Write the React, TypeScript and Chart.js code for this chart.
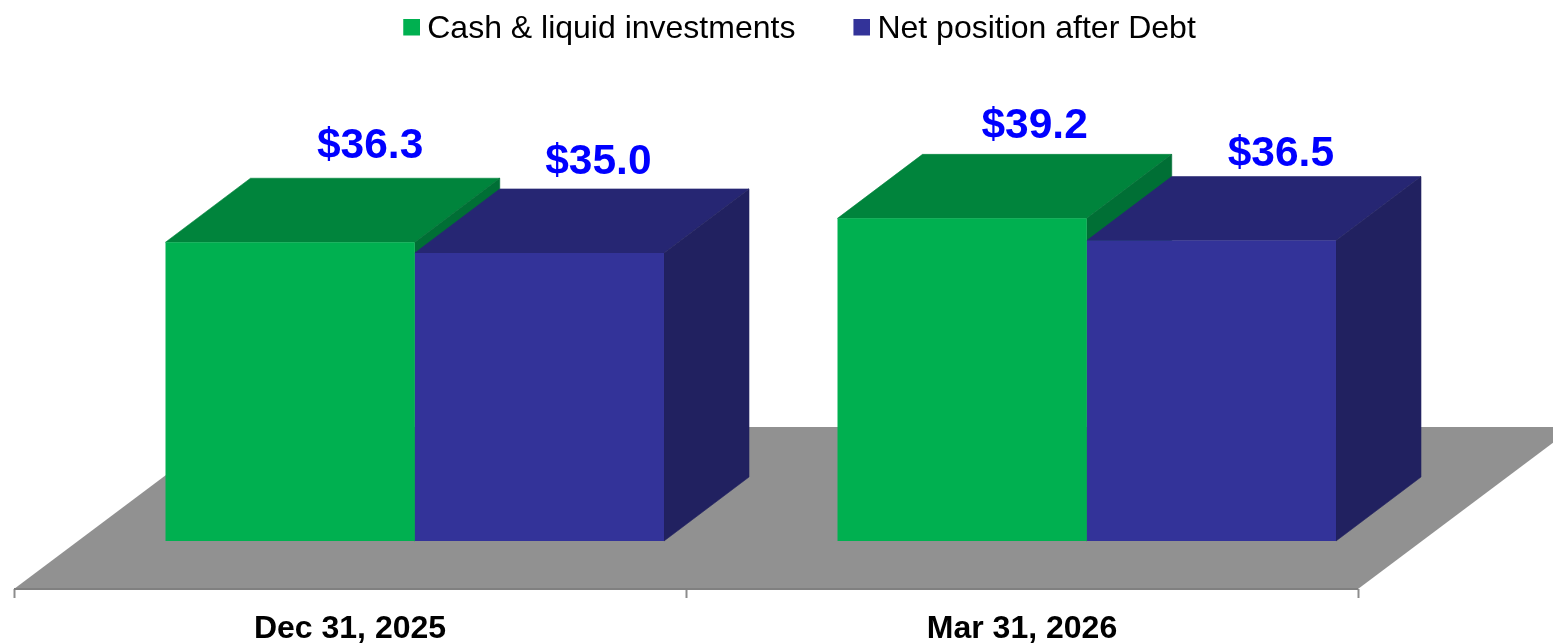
import React, { useEffect, useRef } from "react";
import { Chart, registerables } from "chart.js";

Chart.register(...registerables);

const categories = ["Dec 31, 2025", "Mar 31, 2026"];
const seriesNames = ["Cash & liquid investments", "Net position after Debt"];
const cashValues = [36.3, 39.2];
const netValues = [35.0, 36.5];

const FONT = '"Liberation Sans", Arial, sans-serif';
const COLORS = [
  { front: "#00B050", top: "#00843C", side: "#006F35" },
  { front: "#333399", top: "#262673", side: "#212160" },
];
// 3D projection, in pixels
const BAR_SHIFT = { x: 64.75, y: -48 };
const BAR_DEPTH = { x: 85, y: -64 };
const FLOOR_DEPTH = { x: 216, y: -162 };
// hand placement of the value labels relative to each bar's front-top centre
const LABEL_NUDGE = [
  [[80, -96], [72.5, -92]],
  [[59, -91], [69.5, -86]],
];

const poly = (ctx: CanvasRenderingContext2D, pts: number[][], fill: string, seam = false) => {
  ctx.beginPath();
  pts.forEach(([x, y], i) => (i ? ctx.lineTo(x, y) : ctx.moveTo(x, y)));
  ctx.closePath();
  ctx.fillStyle = fill;
  ctx.fill();
  if (seam) {
    ctx.strokeStyle = fill;
    ctx.lineWidth = 0.6;
    ctx.stroke();
  }
};

const bars3d = {
  id: "bars3d",
  afterLayout(chart: any) {
    // the legend is centred over the whole picture, not over the plot
    const legend = chart.legend;
    legend.left += 117;
    legend.right += 117;
  },
  beforeDatasetsDraw(chart: any) {
    const { ctx, chartArea: a } = chart;
    ctx.save();
    poly(
      ctx,
      [
        [a.left, a.bottom],
        [a.right, a.bottom],
        [a.right + FLOOR_DEPTH.x, a.bottom + FLOOR_DEPTH.y],
        [a.left + FLOOR_DEPTH.x, a.bottom + FLOOR_DEPTH.y],
      ],
      "#919191"
    );
    ctx.fillStyle = "#808080";
    ctx.fillRect(a.left, a.bottom - 1, a.right - a.left, 2);
    // top and side faces, back-to-front by group and series
    categories.forEach((_, c) => {
      chart.data.datasets.forEach((_d: any, s: number) => {
        const el = chart.getDatasetMeta(s).data[c];
        const half = el.width / 2;
        const l = el.x - half + BAR_SHIFT.x;
        const r = el.x + half + BAR_SHIFT.x;
        const t = el.y + BAR_SHIFT.y;
        const b = el.base + BAR_SHIFT.y;
        const dx = BAR_DEPTH.x;
        const dy = BAR_DEPTH.y;
        poly(ctx, [[l, t], [r, t], [r + dx, t + dy], [l + dx, t + dy]], COLORS[s].top, true);
        poly(ctx, [[r, t], [r + dx, t + dy], [r + dx, b + dy], [r, b]], COLORS[s].side, true);
      });
    });
    ctx.restore();
    // front faces are the library's own bars, moved onto the floor
    ctx.save();
    ctx.translate(BAR_SHIFT.x, BAR_SHIFT.y);
  },
  afterDatasetsDraw(chart: any) {
    const { ctx } = chart;
    ctx.restore();
    ctx.save();
    ctx.font = `bold 42.5px ${FONT}`;
    ctx.fillStyle = "#0000FF";
    ctx.textAlign = "center";
    ctx.textBaseline = "middle";
    chart.data.datasets.forEach((d: any, s: number) => {
      chart.getDatasetMeta(s).data.forEach((el: any, c: number) => {
        const [nx, ny] = LABEL_NUDGE[s][c];
        ctx.fillText(`$${d.data[c].toFixed(1)}`, el.x + BAR_SHIFT.x + nx, el.y + BAR_SHIFT.y + ny);
      });
    });
    ctx.restore();
  },
};

const swatch = (color: string) => {
  const c = document.createElement("canvas");
  c.width = 19;
  c.height = 21;
  const x = c.getContext("2d")!;
  x.fillStyle = color;
  x.fillRect(2, 0, 17, 17);
  return c;
};

export default function App() {
  const ref = useRef<HTMLCanvasElement>(null);
  useEffect(() => {
    const chart = new Chart(ref.current!, {
      type: "bar",
      data: {
        labels: categories,
        datasets: [
          { label: seriesNames[0], data: cashValues, backgroundColor: COLORS[0].front },
          { label: seriesNames[1], data: netValues, backgroundColor: COLORS[1].front },
        ],
      },
      plugins: [bars3d],
      options: {
        responsive: false,
        animation: false,
        events: [],
        clip: false,
        categoryPercentage: 0.7418,
        barPercentage: 1,
        layout: { padding: { left: 14, right: 195, top: -52, bottom: 0 } },
        plugins: {
          tooltip: { enabled: false },
          legend: {
            display: true,
            position: "top",
            labels: {
              color: "#000",
              font: { family: FONT, size: 32 },
              padding: 65,
              usePointStyle: true,
              pointStyleWidth: 1,
              generateLabels: (c: any) =>
                c.data.datasets.map((d: any, i: number) => ({
                  text: d.label,
                  fontColor: "#000",
                  datasetIndex: i,
                  hidden: false,
                  lineWidth: 0,
                  pointStyle: swatch(d.backgroundColor),
                })),
            },
          },
        },
        scales: {
          x: {
            type: "category",
            offset: true,
            afterFit: (s: any) => {
              s.height = 54;
            },
            border: { display: false },
            grid: {
              display: true,
              offset: true,
              drawOnChartArea: false,
              drawTicks: true,
              tickLength: 9,
              tickColor: "#8c8c8c",
              tickWidth: 2,
            },
            ticks: {
              color: "#000",
              font: { family: FONT, size: 32, weight: "bold" },
              padding: 12,
              maxRotation: 0,
            },
          },
          y: { display: false, min: 0, max: 64.88 },
        },
      },
    } as any);
    return () => chart.destroy();
  }, []);
  return (
    <div style={{ position: "fixed", left: 0, top: 0, width: 1553, height: 643, background: "#fff" }}>
      <canvas ref={ref} width={1553} height={643} style={{ display: "block" }} />
    </div>
  );
}
